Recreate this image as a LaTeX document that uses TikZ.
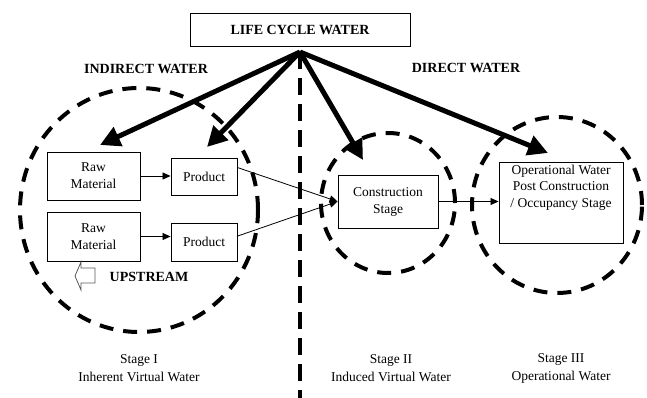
\documentclass[tikz,border=0pt]{standalone}
\usepackage{fontspec}
\setmainfont{Liberation Serif}
\usetikzlibrary{arrows.meta,positioning}

\begin{document}
\begin{tikzpicture}[x=1pt, y=-1pt,
  box/.style={draw, line width=0.9pt, inner sep=2pt, align=center, font=\fontsize{13.5}{17}\selectfont},
  txt/.style={align=center, font=\fontsize{13.5}{18}\selectfont},
  hdr/.style={font=\fontsize{14}{17}\selectfont\bfseries},
  feed/.style={line width=5pt, -{Triangle[length=20pt,width=20pt]}},
  flow/.style={line width=0.8pt, -{Triangle[length=8pt,width=7pt]}},
  ring/.style={line width=4pt, dash pattern=on 14pt off 10pt}]
  \useasboundingbox (0,0) rectangle (647,398);
  % stage circles and the divider
  \draw[ring] (139,210) ellipse [x radius=119pt, y radius=122pt];
  \draw[ring] (388,203) ellipse [x radius=67pt, y radius=70pt];
  \draw[ring] (557,205) ellipse [x radius=85pt, y radius=88pt];
  \draw[line width=4.5pt, dash pattern=on 17pt off 9pt] (300,52) -- (300,398);
  % headings
  \node[box, hdr, minimum width=220pt, minimum height=33pt] (life) at (300,29.5) {LIFE CYCLE WATER};
  \node[hdr] (indirect) at (146,69) {INDIRECT WATER};
  \node[hdr] (direct) at (466,68) {DIRECT WATER};
  % boxes
  \node[box, minimum width=93pt, minimum height=48pt] (raw1) at (93.5,176) {Raw\\Material};
  \node[box, minimum width=66pt, minimum height=37pt] (prod1) at (204,176.5) {Product};
  \node[box, minimum width=93pt, minimum height=49pt] (raw2) at (93.5,236.5) {Raw\\Material};
  \node[box, minimum width=66pt, minimum height=38pt] (prod2) at (204,242) {Product};
  \node[box, minimum width=100pt, minimum height=53pt] (cons) at (388,201.5) {Construction\\Stage};
  \node[box, minimum width=124pt, minimum height=81pt] (oper) at (561,202.5) {};
  \node[txt, anchor=north, font=\fontsize{13.5}{16.5}\selectfont, inner sep=3pt] (opertxt) at (oper.north) {Operational Water\\Post Construction\\/ Occupancy Stage};
  % life cycle feeds
  \coordinate (hub) at (300,52);
  \coordinate (tip1) at (100,145);
  \coordinate (tip2) at (207,147);
  \coordinate (tip3) at (363,160);
  \coordinate (tip4) at (548,153);
  \foreach \t in {tip1,tip2,tip3,tip4}
    \draw[feed] (hub) -- (\t);
  % flows
  \draw[flow] (raw1.east) -- (raw1.east -| prod1.west);
  \draw[flow] (raw2.east) -- (raw2.east -| prod2.west);
  \draw[flow] (prod1.15) -- (cons.west);
  \draw[flow] (prod2.10) -- (cons.west);
  \draw[flow] (cons.east) -- (cons.east -| oper.west);
  % upstream marker
  \draw[gray!70!black, line width=0.8pt] (81,262) -- (75,276) -- (81,290) -- (81,283) -- (95,283) -- (95,268) -- (81,268) -- cycle;
  \node[hdr] (upstream) at (149,277) {UPSTREAM};
  % stage labels
  \node[txt] (stage1) at (139,368) {Stage I\\Inherent Virtual Water};
  \node[txt] (stage2) at (391,368) {Stage II\\Induced Virtual Water};
  \node[txt] (stage3) at (561,368) {Stage III\\Operational Water};
\end{tikzpicture}
\end{document}
